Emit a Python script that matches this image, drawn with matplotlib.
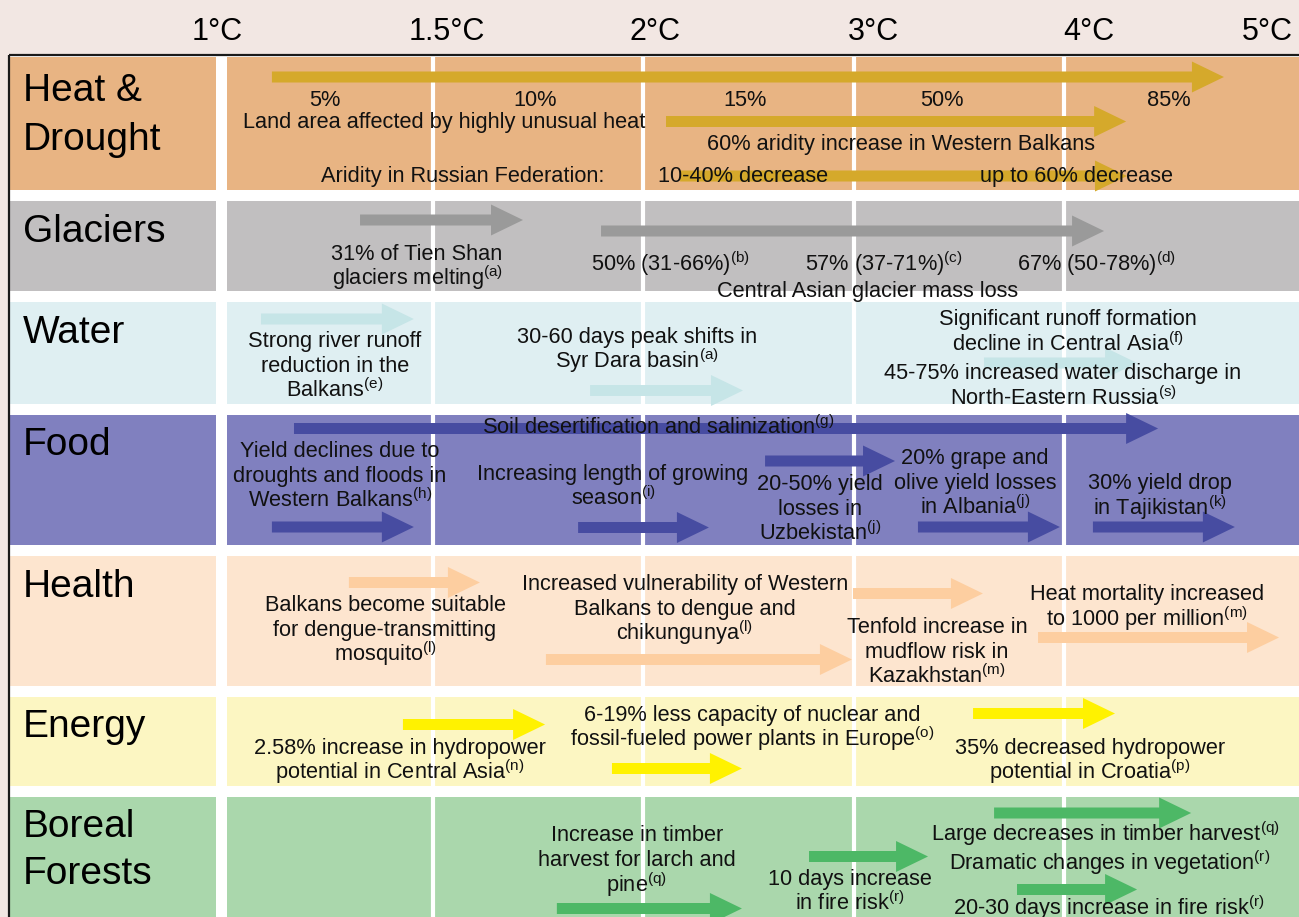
import matplotlib
matplotlib.use("Agg")
import matplotlib.pyplot as plt
from matplotlib.patches import Rectangle, FancyArrow

plt.rcParams['font.family'] = ['Liberation Sans', 'DejaVu Sans']
plt.rcParams['mathtext.fontset'] = 'custom'
plt.rcParams['mathtext.rm'] = 'Liberation Sans'
plt.rcParams['mathtext.it'] = 'Liberation Sans:italic'
plt.rcParams['mathtext.bf'] = 'Liberation Sans:bold'

# ---------------- data ----------------
# x positions are in "temperature column" units: 0=1°C, 1=1.5°C, 2=2°C, 3=3°C, 4=4°C, 5=5°C
temp_labels = ["1°C", "1.5°C", "2°C", "3°C", "4°C", "5°C"]
temp_label_pos = [-0.027, 1.066, 2.056, 3.092, 4.119, 4.966]
grid_pos = [1, 2, 3, 4]

sector_lines = [["Heat &", "Drought"], ["Glaciers"], ["Water"], ["Food"],
                ["Health"], ["Energy"], ["Boreal", "Forests"]]
sector_baselines = [[101, 150], [241.5], [343], [455], [597], [737], [837, 884]]
row_top = [57, 201, 302, 415, 556, 697, 797]
row_bottom = [190, 291, 404, 545, 686, 786, 920]
cell_colors = ["#e8b483", "#c1bfc0", "#dfeff2", "#8080bf", "#fde5cf", "#fcf6c2", "#aad7ac"]
arrow_colors = ["#d5a92b", "#9a9a9a", "#c6e5e7", "#474ca1", "#fdcea0", "#fff200", "#4db866"]

# arrows: (start, end, row-y)
heat_arrows = [(0.234, 4.761, 77), (2.108, 4.296, 121.5), (2.175, 4.300, 176)]
glacier_arrows = [(0.653, 1.428, 220), (1.799, 4.191, 231)]
water_arrows = [(0.182, 0.909, 319), (1.747, 2.474, 390.5), (3.620, 4.348, 363)]
food_arrows = [(0.339, 4.448, 428.5), (0.234, 0.909, 527), (1.690, 2.312, 527.5),
               (2.579, 3.197, 461), (3.306, 3.981, 527), (4.138, 4.813, 527)]
health_arrows = [(0.600, 1.223, 582.5), (1.537, 2.992, 659.5),
                 (2.997, 3.615, 593.5), (3.877, 5.023, 637.5)]
energy_arrows = [(0.857, 1.533, 724.5), (1.851, 2.469, 768.5), (3.568, 4.243, 713.5)]
forest_arrows = [(1.589, 2.469, 908.5), (2.788, 3.354, 856.5),
                 (3.668, 4.605, 813), (3.777, 4.348, 889.5)]
all_arrows = [heat_arrows, glacier_arrows, water_arrows, food_arrows,
              health_arrows, energy_arrows, forest_arrows]


def sup(txt, ref):
    return txt + r"$^{\mathrm{(" + ref + r")}}$"


heat_texts = [(0.486, 99, "5%"), (1.485, 99, "10%"), (2.484, 99, "15%"),
              (3.420, 99, "50%"), (4.500, 99, "85%"),
              (1.055, 121, "Land area affected by highly unusual heat"),
              (3.225, 143, "60% aridity increase in Western Balkans"),
              (1.143, 175, "Aridity in Russian Federation:"),
              (2.474, 175, "10-40% decrease"),
              (4.062, 175, "up to 60% decrease")]
glacier_texts = [(0.924, 265.5, "31% of Tien Shan\n" + sup("glaciers melting", "a")),
                 (2.127, 264, sup("50% (31-66%)", "b")),
                 (3.145, 264, sup("57% (37-71%)", "c")),
                 (4.157, 264, sup("67% (50-78%)", "d")),
                 (3.068, 290, "Central Asian glacier mass loss")]
water_texts = [(0.534, 365, "Strong river runoff\nreduction in the\n" + sup("Balkans", "e")),
               (1.970, 348.5, "30-60 days peak shifts in\n" + sup("Syr Dara basin", "a")),
               (4.019, 331, "Significant runoff formation\n" + sup("decline in Central Asia", "f")),
               (3.996, 385, "45-75% increased water discharge in\n" + sup("North-Eastern Russia", "s"))]
food_texts = [(2.070, 427, sup("Soil desertification and salinization", "g")),
              (0.558, 475, "Yield declines due to\ndroughts and floods in\n" + sup("Western Balkans", "h")),
              (1.856, 485.5, "Increasing length of growing\n" + sup("season", "i")),
              (2.840, 508, "20-50% yield\nlosses in\n" + sup("Uzbekistan", "j")),
              (3.577, 482, "20% grape and\nolive yield losses\n" + sup("in Albania", "j")),
              (4.457, 495, "30% yield drop\n" + sup("in Tajikistan", "k"))]
health_texts = [(0.772, 629, "Balkans become suitable\nfor dengue-transmitting\n" + sup("mosquito", "l")),
                (2.198, 608, "Increased vulnerability of Western\nBalkans to dengue and\n" + sup("chikungunya", "l")),
                (3.397, 651, "Tenfold increase in\nmudflow risk in\n" + sup("Kazakhstan", "m")),
                (4.395, 606, "Heat mortality increased\n" + sup("to 1000 per million", "m"))]
energy_texts = [(0.843, 759.5, "2.58% increase in hydropower\n" + sup("potential in Central Asia", "n")),
                (2.517, 726.5, "6-19% less capacity of nuclear and\n" + sup("fossil-fueled power plants in Europe", "o")),
                (4.124, 759.5, "35% decreased hydropower\n" + sup("potential in Croatia", "p"))]
forest_texts = [(1.970, 859.5, "Increase in timber\nharvest for larch and\n" + sup("pine", "q")),
                (2.983, 890.5, "10 days increase\n" + sup("in fire risk", "r")),
                (4.196, 834, sup("Large decreases in timber harvest", "q")),
                (4.215, 863, sup("Dramatic changes in vegetation", "r")),
                (4.215, 908, sup("20-30 days increase in fire risk", "r"))]
all_texts = [heat_texts, glacier_texts, water_texts, food_texts,
             health_texts, energy_texts, forest_texts]

# ---------------- layout ----------------
W, H = 1299, 917
PX0, PXS = 222.7, 210.3          # pixel of column 0, pixels per column
LINE_STEP = 25.3                 # pixels between text lines
BASE_OFF = 7.0                   # baseline below visual centre of a line


def col(px):
    return (px - PX0) / PXS


fig = plt.figure(figsize=(W / 100, H / 100), dpi=100)
fig.patch.set_facecolor("#f2e7e3")
ax = fig.add_axes([0, 0, 1, 1])
ax.set_xlim(col(0), col(W))
ax.set_ylim(H, 0)
ax.axis("off")

# frame interior (white) and frame border
ax.add_patch(Rectangle((col(9), 55), col(W + 5) - col(9), H, facecolor="white",
                       edgecolor="none", zorder=0))
ax.plot([col(9), col(W + 5)], [55, 55], color="#1a1a1a", lw=1.6, zorder=5, solid_capstyle="butt")
ax.plot([col(9), col(9)], [55, H + 5], color="#1a1a1a", lw=1.6, zorder=5, solid_capstyle="butt")

# temperature header
for lab, p in zip(temp_labels, temp_label_pos):
    ax.text(p, 40, lab, fontsize=22, ha="center", va="baseline", color="black")

head_len = 32 / PXS
for i in range(len(sector_lines)):
    t, b = row_top[i], row_bottom[i]
    ax.add_patch(Rectangle((col(10), t), col(215.7) - col(10), b - t,
                           facecolor=cell_colors[i], edgecolor="none", zorder=1))
    ax.add_patch(Rectangle((col(226.7), t), col(W + 5) - col(226.7), b - t,
                           facecolor=cell_colors[i], edgecolor="none", zorder=1))
    for line, bl in zip(sector_lines[i], sector_baselines[i]):
        ax.text(col(23), bl, line, fontsize=28, ha="left", va="baseline", zorder=6)
    for (s, e, y) in all_arrows[i]:
        ax.add_patch(FancyArrow(s, y, e - s, 0, width=11, head_width=31,
                                head_length=head_len, length_includes_head=True,
                                facecolor=arrow_colors[i], edgecolor="none", zorder=3))
    for (x, y, txt) in all_texts[i]:
        lines = txt.split("\n")
        n = len(lines)
        for k, ln in enumerate(lines):
            yc = y + (k - (n - 1) / 2) * LINE_STEP
            ax.text(x, yc + BASE_OFF, ln, fontsize=15.7, ha="center", va="baseline",
                    zorder=6, color="#111111")

# white separators at temperature columns
for g in grid_pos:
    ax.plot([g, g], [57, H + 5], color="white", lw=3.0, zorder=2)

fig.savefig("out.png", dpi=100, facecolor=fig.get_facecolor())
